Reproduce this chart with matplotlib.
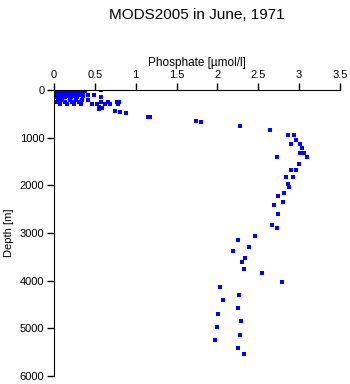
import numpy as np
import matplotlib.pyplot as plt

plt.rcParams['font.family'] = ['Liberation Sans', 'DejaVu Sans']

# surface cluster (upper 300 m)
surf_depth = [0]*10 + [10]*6 + [20]*6 + [30]*6 + [50]*7 + [75]*6 + [100]*7 \
    + [125]*5 + [150]*6 + [200]*6 + [250]*8 + [300]*9
surf_po4 = [0.02, 0.05, 0.08, 0.10, 0.13, 0.16, 0.20, 0.24, 0.28, 0.58,
            0.03, 0.06, 0.11, 0.15, 0.19, 0.25,
            0.02, 0.07, 0.12, 0.18, 0.22, 0.30,
            0.04, 0.09, 0.14, 0.21, 0.27, 0.38,
            0.03, 0.08, 0.13, 0.17, 0.23, 0.29, 0.36,
            0.05, 0.10, 0.16, 0.20, 0.26, 0.33,
            0.04, 0.09, 0.15, 0.22, 0.30, 0.41, 0.49,
            0.06, 0.12, 0.18, 0.25, 0.36,
            0.03, 0.08, 0.14, 0.21, 0.28, 0.57,
            0.05, 0.10, 0.19, 0.27, 0.34, 0.42,
            0.04, 0.13, 0.22, 0.31, 0.58, 0.66, 0.77, 0.80,
            0.07, 0.16, 0.25, 0.33, 0.46, 0.53, 0.62, 0.69, 0.78]

# deeper profile
deep_depth = [350, 378, 406, 448, 469, 490, 574, 574, 658, 679, 756, 847,
              938, 952, 1043, 1134, 1127, 1226, 1324, 1317, 1415, 1415,
              1555, 1688, 1688, 1835, 1835, 1982, 2045, 2171, 2234, 2360,
              2423, 2591, 2822, 2899, 3053, 3137, 3284, 3368, 3515, 3599,
              3746, 3830, 4019, 4124, 4300, 4397, 4580, 4691, 4853, 4972,
              5133, 5252, 5406, 5546]
deep_po4 = [0.55, 0.59, 0.556, 0.745, 0.81, 0.875, 1.15, 1.17, 1.734, 1.80,
            2.278, 2.642, 2.867, 2.937, 2.957, 2.90, 3.01, 3.04, 3.01, 3.06,
            3.096, 2.728, 3.002, 2.90, 2.96, 2.84, 2.93, 2.863, 2.88, 2.814,
            2.74, 2.80, 2.69, 2.74, 2.667, 2.73, 2.458, 2.25, 2.39, 2.19,
            2.34, 2.30, 2.33, 2.55, 2.79, 2.03, 2.26, 2.07, 2.25, 2.01,
            2.29, 2.00, 2.28, 1.97, 2.25, 2.33]

depth = np.array(surf_depth + deep_depth)
po4 = np.array(surf_po4 + deep_po4)

fig = plt.figure(figsize=(3.5, 3.84), dpi=100)
ax = fig.add_axes([54/350, 1 - 376/384, 286/350, 286/384])

ax.plot(po4, depth, 's', color='#0000ff', ms=2.2, mew=0, ls='none')

ax.set_xlim(0, 3.5)
ax.set_ylim(6000, 0)
ax.set_xticks([0, 0.5, 1, 1.5, 2, 2.5, 3, 3.5])
ax.set_xticklabels(['0', '0.5', '1', '1.5', '2', '2.5', '3', '3.5'])
ax.set_yticks([0, 1000, 2000, 3000, 4000, 5000, 6000])
ax.xaxis.tick_top()
ax.xaxis.set_label_position('top')
ax.spines['right'].set_visible(False)
ax.spines['bottom'].set_visible(False)
ax.tick_params(direction='out', length=5, width=1, labelsize=8, pad=2)
ax.set_xlabel('Phosphate [µmol/l]', fontsize=8.5, labelpad=3)
ax.set_ylabel('Depth [m]', fontsize=8, labelpad=4)

fig.text(197/350, 1 - 15/384, 'MODS2005 in June, 1971', ha='center',
         va='center', fontsize=11)

fig.savefig('out.png', dpi=100)
